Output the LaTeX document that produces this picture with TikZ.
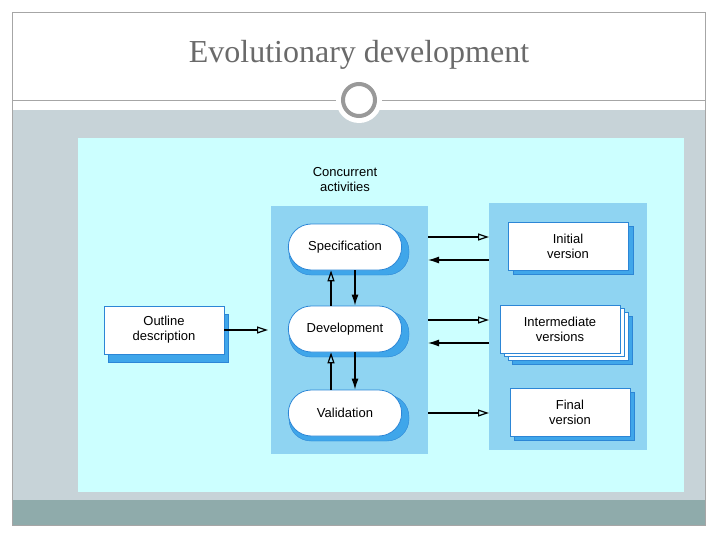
\documentclass[tikz,border=0pt]{standalone}
\usepackage{fontspec}
\setsansfont{Liberation Sans}
\setmainfont{Liberation Serif}
\usetikzlibrary{arrows.meta,positioning,shapes.misc}
\definecolor{slidegray}{HTML}{C7D3D8}
\definecolor{barteal}{HTML}{8FABAB}
\definecolor{panelcyan}{HTML}{CCFFFF}
\definecolor{panelblue}{HTML}{8FD4F2}
\definecolor{edgeblue}{HTML}{2C86D6}
\definecolor{shadblue}{HTML}{3FA6EA}
\definecolor{titlegray}{HTML}{6A6A6A}
\tikzset{
  act/.style={draw=edgeblue, thick, fill=white, rounded rectangle, minimum width=120, minimum height=46, font=\sffamily\fontsize{13}{15}\selectfont},
  ver/.style={draw=edgeblue, thick, fill=white, minimum width=120, minimum height=48, align=center, font=\sffamily\fontsize{13}{15}\selectfont, inner sep=1pt},
  shad/.style={fill=shadblue, draw=edgeblue},
  toright/.style={-{Triangle[open,length=11pt,width=7pt]}, line width=1.2pt},
  downtip/.style={-{Latex[length=11pt,width=7pt]}, line width=1.2pt},
}
\begin{document}
\begin{tikzpicture}[x=1pt,y=1pt,yscale=-1]
\useasboundingbox (0,0) rectangle (717,538);
\fill[white] (0,0) rectangle (717,538);

% slide frame
\fill[slidegray] (12,110) rectangle (705,500);
\fill[barteal] (12,500) rectangle (705,525);
\draw[gray!70] (12,12) rectangle (705,525);
\draw[gray!70] (12,100) -- (705,100);
\node[font=\fontsize{32}{36}\selectfont, text=titlegray] (title) at (359,55) {Evolutionary development};
\fill[white] (359,100) circle (23);
\draw[line width=4pt, gray!80] (359,100) circle (16);

% panels
\fill[panelcyan] (78,138) rectangle (684,492);
\fill[panelblue] (271,206) rectangle (428,454);
\fill[panelblue] (489,203) rectangle (647,450);
\node[font=\sffamily\fontsize{13}{15}\selectfont, align=center] (conc) at (345,180) {Concurrent\\activities};

% activities
\fill[shad, rounded corners=22] (289,229) rectangle (409,275);
\node[act] (spec) at (345,247) {Specification};
\fill[shad, rounded corners=22] (289,311) rectangle (409,357);
\node[act] (dev) at (345,329) {Development};
\fill[shad, rounded corners=22] (289,395) rectangle (409,441);
\node[act] (val) at (345,413) {Validation};

% outline
\fill[shad] (108,314) rectangle (228,362);
\node[ver] (outline) at (164,330) {Outline\\description};

% versions
\fill[shad] (513,226) rectangle (633,274);
\node[ver] (init) at (568,246) {Initial\\version};
\fill[shad] (512,316) rectangle (632,364);
\draw[edgeblue, thick, fill=white] (508,312) rectangle (628,360);
\draw[edgeblue, thick, fill=white] (504,308) rectangle (624,356);
\node[ver] (inter) at (560,329) {Intermediate\\versions};
\fill[shad] (514,392) rectangle (634,440);
\node[ver] (final) at (570,412) {Final\\version};

% connectors
\coordinate (devin) at (268,330);
\draw[toright] (outline.east) -- (devin);
\foreach \n/\y/\z in {spec/237/260, dev/320/343} {
  \coordinate (\n a) at (428,\y); \coordinate (\n b) at (489,\y);
  \coordinate (\n c) at (489,\z); \coordinate (\n d) at (428,\z);
  \draw[toright] (\n a) -- (\n b);
  \draw[downtip] (\n c) -- (\n d);
}
\coordinate (vala) at (428,413); \coordinate (valb) at (489,413);
\draw[toright] (vala) -- (valb);
\draw[toright] (dev.north -| 331,0) -- (spec.south -| 331,0);
\draw[downtip] (spec.south -| 355,0) -- (dev.north -| 355,0);
\draw[toright] (val.north -| 331,0) -- (dev.south -| 331,0);
\draw[downtip] (dev.south -| 355,0) -- (val.north -| 355,0);
\end{tikzpicture}
\end{document}
